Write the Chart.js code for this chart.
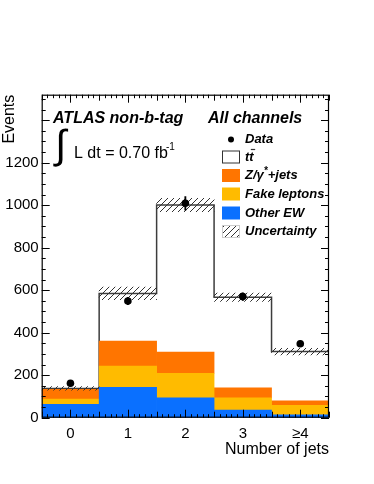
<!DOCTYPE html>
<html>
<head>
<meta charset="utf-8">
<script src="https://cdn.jsdelivr.net/npm/chart.js@4/dist/chart.umd.min.js"></script>
<style>
  body { margin: 0; background: #fff; }
  #wrap { width: 374px; height: 484px; }
</style>
</head>
<body>
<div id="wrap"><canvas id="jetChart" width="374" height="484"></canvas></div>
<script>
// 數據
const xLabels = ['0', '1', '2', '3', '≥4'];
const otherEW = [63, 143, 93, 36, 13];
const fakeLeptons = [25, 100, 116, 57, 45];
const zJets = [46, 117, 100, 47, 21];
const ttbar = [4, 225, 692, 427, 232];
const uncertainty = [8, 30, 31, 20, 16];
const dataCounts = [162, 549, 1009, 570, 348];
const dataErr = [12, 17, 32, 18, 14];
const yTicks = [0, 200, 400, 600, 800, 1000, 1200];
const yMax = 1520;

const FONT = "'Liberation Sans', Arial, sans-serif";
Chart.defaults.font.family = FONT;
Chart.defaults.color = '#000';

// 堆疊: 自己算上下界
const lowEW = otherEW.map(() => 0);
const topEW = otherEW.slice();
const topFake = topEW.map((v, i) => v + fakeLeptons[i]);
const topZ = topFake.map((v, i) => v + zJets[i]);
const total = topZ.map((v, i) => v + ttbar[i]);

const floating = (lo, hi) => lo.map((v, i) => ({ x: i, y: [v, hi[i]] }));

// 總和的階梯外框
const stepPoints = [];
total.forEach((v, i) => {
  stepPoints.push({ x: i - 0.5, y: v });
  stepPoints.push({ x: i + 0.5, y: v });
});

// 斜線圖樣 (Uncertainty)
function makeHatch() {
  const c = document.createElement('canvas');
  c.width = 6; c.height = 6;
  const g = c.getContext('2d');
  g.strokeStyle = '#333';
  g.lineWidth = 1;
  g.beginPath();
  g.moveTo(0, 6); g.lineTo(6, 0);
  g.moveTo(-1, 1); g.lineTo(1, -1);
  g.moveTo(5, 7); g.lineTo(7, 5);
  g.stroke();
  return g.createPattern(c, 'repeat');
}
const hatch = makeHatch();

const C_Z = '#ff7500';
const C_FAKE = '#ffbb00';
const C_EW = '#0a70ff';

// ROOT 風格的框和內向刻度
const rootFrame = {
  id: 'rootFrame',
  afterDatasetsDraw(chart) {
    const { ctx, chartArea: a, scales: { x, y } } = chart;
    ctx.save();
    ctx.strokeStyle = '#000';
    ctx.lineWidth = 1;
    ctx.beginPath();
    for (let v = 0; v <= yMax; v += 50) {
      const py = Math.round(y.getPixelForValue(v)) + 0.5;
      const len = v % 200 === 0 ? 8 : 4;
      ctx.moveTo(a.left, py); ctx.lineTo(a.left + len, py);
      ctx.moveTo(a.right, py); ctx.lineTo(a.right - len, py);
    }
    for (let k = -5; k <= 45; k++) {
      const px = Math.round(x.getPixelForValue(k / 10)) + 0.5;
      const len = k % 10 === 0 ? 8 : (k % 5 === 0 ? 6 : 3.5);
      ctx.moveTo(px, a.bottom); ctx.lineTo(px, a.bottom - len);
      ctx.moveTo(px, a.top); ctx.lineTo(px, a.top + len);
    }
    ctx.stroke();
    ctx.lineWidth = 1.2;
    ctx.strokeRect(a.left + 0.5, a.top + 0.5, a.right - a.left - 1, a.bottom - a.top - 1);
    ctx.restore();
  }
};

// 圖例和 ATLAS 文字
const atlasText = {
  id: 'atlasText',
  afterDraw(chart) {
    const ctx = chart.ctx;
    ctx.save();
    ctx.fillStyle = '#000';
    ctx.textBaseline = 'alphabetic';
    ctx.font = `italic bold 16px ${FONT}`;
    ctx.fillText('ATLAS non-b-tag', 53, 123);
    ctx.fillText('All channels', 208, 123);

    ctx.font = `40px ${FONT}`;
    ctx.textBaseline = 'middle';
    ctx.fillText('∫', 55, 147);
    ctx.textBaseline = 'alphabetic';
    ctx.font = `16px ${FONT}`;
    ctx.fillText('L dt = 0.70 fb', 74, 157.5);
    ctx.font = `10px ${FONT}`;
    ctx.fillText('-1', 166, 150);

    // legend
    const bx = 222, bw = 18, bh = 13, tx = 245;
    const rows = [139.5, 157, 175.5, 194, 213, 231.5];
    ctx.font = `italic bold 13px ${FONT}`;
    ctx.textBaseline = 'middle';

    ctx.beginPath();
    ctx.arc(bx + bw / 2, rows[0], 3, 0, Math.PI * 2);
    ctx.fill();
    ctx.fillText('Data', tx, rows[0]);

    ctx.fillStyle = '#fff';
    ctx.fillRect(bx, rows[1] - bh / 2, bw, bh);
    ctx.strokeStyle = '#333';
    ctx.lineWidth = 1;
    ctx.strokeRect(bx + 0.5, rows[1] - bh / 2 + 0.5, bw - 1, bh - 1);
    ctx.fillStyle = '#000';
    ctx.fillText('tt', tx, rows[1]);
    const tw = ctx.measureText('t').width;
    ctx.beginPath();
    ctx.lineWidth = 1.2;
    ctx.moveTo(tx + tw + 1.5, rows[1] - 7.5);
    ctx.lineTo(tx + 2 * tw + 1.5, rows[1] - 7.5);
    ctx.stroke();

    const filled = [[C_Z, rows[2]], [C_FAKE, rows[3]], [C_EW, rows[4]]];
    filled.forEach(([col, ry]) => {
      ctx.fillStyle = col;
      ctx.fillRect(bx, ry - bh / 2, bw, bh);
    });
    ctx.fillStyle = '#000';
    ctx.fillText('Z/γ', tx, rows[2]);
    let w = ctx.measureText('Z/γ').width;
    ctx.font = `italic bold 10px ${FONT}`;
    ctx.fillText('*', tx + w, rows[2] - 4);
    const sw = ctx.measureText('*').width;
    ctx.font = `italic bold 13px ${FONT}`;
    ctx.fillText('+jets', tx + w + sw, rows[2]);
    ctx.fillText('Fake leptons', tx, rows[3]);
    ctx.fillText('Other EW', tx, rows[4]);

    ctx.fillStyle = hatch;
    ctx.fillRect(bx, rows[5] - bh / 2, bw, bh);
    ctx.strokeStyle = '#ccc';
    ctx.lineWidth = 1;
    ctx.strokeRect(bx + 0.5, rows[5] - bh / 2 + 0.5, bw - 1, bh - 1);
    ctx.fillStyle = '#000';
    ctx.fillText('Uncertainty', tx, rows[5]);
    ctx.restore();
  }
};

const barCommon = { type: 'bar', grouped: false, barPercentage: 1, categoryPercentage: 1, borderWidth: 0 };

const myChart = new Chart(document.getElementById('jetChart'), {
  type: 'bar',
  data: {
    datasets: [
      { type: 'line', label: 'Data', data: dataCounts.map((v, i) => ({ x: i, y: v })), showLine: false,
        pointRadius: 3.8, pointBackgroundColor: '#000', pointBorderWidth: 0, order: 0 },
      { ...barCommon, label: 'DataErr', data: dataCounts.map((v, i) => ({ x: i, y: [v - dataErr[i], v + dataErr[i]] })),
        barThickness: 1.2, backgroundColor: '#000', order: 1 },
      { ...barCommon, label: 'Uncertainty', data: floating(total.map((v, i) => v - uncertainty[i]), total.map((v, i) => v + uncertainty[i])),
        backgroundColor: hatch, order: 2 },
      { ...barCommon, label: 'Other EW', data: floating(lowEW, topEW), backgroundColor: C_EW, order: 3 },
      { ...barCommon, label: 'Fake leptons', data: floating(topEW, topFake), backgroundColor: C_FAKE, order: 3 },
      { ...barCommon, label: 'Z/γ*+jets', data: floating(topFake, topZ), backgroundColor: C_Z, order: 3 },
      { type: 'line', label: 'ttbar', data: stepPoints, borderColor: '#3c3c3c', borderWidth: 1.5,
        pointRadius: 0, fill: false, tension: 0, order: 4 }
    ]
  },
  options: {
    responsive: false,
    animation: false,
    layout: { padding: { left: 2, right: 45, top: 94.7, bottom: 0 } },
    plugins: { legend: { display: false }, tooltip: { enabled: false } },
    scales: {
      x: {
        type: 'linear', min: -0.5, max: 4.5, offset: false,
        grid: { display: false, drawTicks: false }, border: { display: false },
        afterBuildTicks: ax => { ax.ticks = xLabels.map((_, i) => ({ value: i })); },
        ticks: { callback: v => xLabels[v], font: { size: 15 }, color: '#000', padding: 7, maxRotation: 0, autoSkip: false },
        title: { display: true, text: 'Number of jets', align: 'end', font: { size: 16 }, color: '#000', padding: { top: 0, bottom: 25 } },
        afterFit: ax => { ax.height = 66.3; }
      },
      y: {
        min: 0, max: yMax,
        grid: { display: false, drawTicks: false }, border: { display: false },
        afterBuildTicks: ax => { ax.ticks = yTicks.map(v => ({ value: v })); },
        ticks: { callback: v => String(v), font: { size: 15 }, color: '#000', padding: 3 },
        title: { display: true, text: 'Events', align: 'end', font: { size: 16, lineHeight: 1 }, color: '#000', padding: 0 },
        afterFit: ax => { ax.width = 39.7; }
      }
    }
  },
  plugins: [rootFrame, atlasText]
});
</script>
</body>
</html>
